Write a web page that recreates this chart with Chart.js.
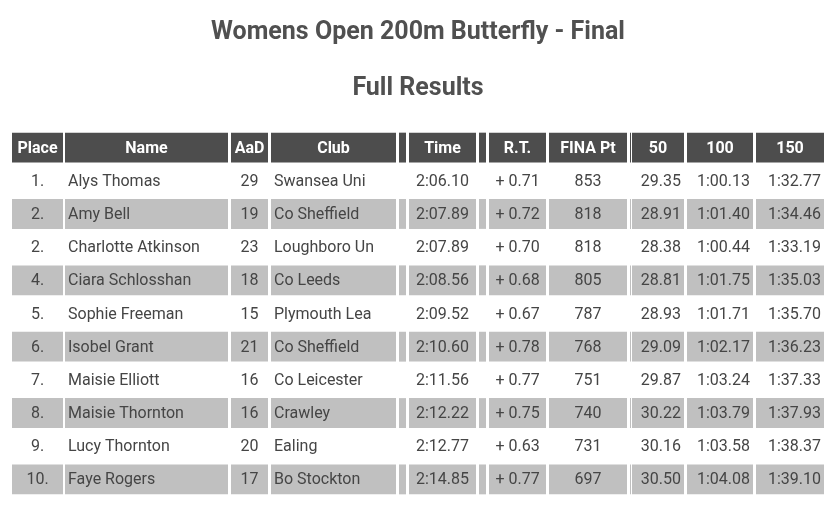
<!DOCTYPE html>
<html><head><meta charset="utf-8">
<script src="https://cdn.jsdelivr.net/npm/chart.js@4/dist/chart.umd.min.js"></script>
<style>html,body{margin:0;padding:0;background:#fff}#w{width:833px;height:512px}</style>
</head><body><div id="w"><canvas id="c"></canvas></div>
<script>
const titleText = "Womens Open 200m Butterfly - Final";
const subtitleText = "Full Results";
const headers = ["Place","Name","AaD","Club","","Time","","R.T.","FINA Pt","","50","100","150"];
const colStart = [12,65,231,271,399,409,479,489,549,630,632,687,756];
const colEnd   = [63,228,268,396,406,476,486,546,627,631,684,753,824];
const colAlign = ["center","left","center","left","center","center","center","center","center","center","right","right","right"];
const places = ["1.","2.","2.","4.","5.","6.","7.","8.","9.","10."];
const names = ["Alys Thomas","Amy Bell","Charlotte Atkinson","Ciara Schlosshan","Sophie Freeman","Isobel Grant","Maisie Elliott","Maisie Thornton","Lucy Thornton","Faye Rogers"];
const ages = [29,19,23,18,15,21,16,16,20,17];
const clubs = ["Swansea Uni","Co Sheffield","Loughboro Un","Co Leeds","Plymouth Lea","Co Sheffield","Co Leicester","Crawley","Ealing","Bo Stockton"];
const times = ["2:06.10","2:07.89","2:07.89","2:08.56","2:09.52","2:10.60","2:11.56","2:12.22","2:12.77","2:14.85"];
const reactions = ["+ 0.71","+ 0.72","+ 0.70","+ 0.68","+ 0.67","+ 0.78","+ 0.77","+ 0.75","+ 0.63","+ 0.77"];
const finaPts = [853,818,818,805,787,768,751,740,731,697];
const split50 = ["29.35","28.91","28.38","28.81","28.93","29.09","29.87","30.22","30.16","30.50"];
const split100 = ["1:00.13","1:01.40","1:00.44","1:01.75","1:01.71","1:02.17","1:03.24","1:03.79","1:03.58","1:04.08"];
const split150 = ["1:32.77","1:34.46","1:33.19","1:35.03","1:35.70","1:36.23","1:37.33","1:37.93","1:38.37","1:39.10"];

const rowLabels = ["H"].concat(places.map((p,i)=>"r"+i));
const cellText = (col,r)=>[places[r],names[r],String(ages[r]),clubs[r],"",times[r],"",reactions[r],String(finaPts[r]),"",split50[r],split100[r],split150[r]][col];
const rowColor = i => i===0 ? "#4d4d4d" : (i%2===0 ? "#c0c0c0" : "rgba(0,0,0,0)");

const datasets = colStart.map((s,ci)=>({
  data: rowLabels.map(()=>[s,colEnd[ci]]),
  backgroundColor: rowLabels.map((_,i)=>rowColor(i)),
  grouped:false, barPercentage:0.9, categoryPercentage:1, borderWidth:0
}));

const textPlugin = {
  id:"txt",
  afterDraw(chart){
    const ctx=chart.ctx, xs=chart.scales.x, ys=chart.scales.y;
    ctx.save();
    ctx.textBaseline="middle";
    ctx.fillStyle="#505050";
    ctx.textAlign="center";
    ctx.font="bold 25px Roboto";
    ctx.fillText(titleText,418,33);
    ctx.fillText(subtitleText,418,89);
    rowLabels.forEach((_,r)=>{
      const y=ys.getPixelForValue(r)+1;
      headers.forEach((h,ci)=>{
        const t = r===0 ? h : cellText(ci,r-1);
        if(!t) return;
        const a=colAlign[ci];
        let x;
        if(r===0){ ctx.textAlign="center"; x=(xs.getPixelForValue(colStart[ci])+xs.getPixelForValue(colEnd[ci]))/2; ctx.font="bold 16px Roboto"; ctx.fillStyle="#fff"; }
        else {
          ctx.font="16px Roboto"; ctx.fillStyle="#454545"; ctx.textAlign=a;
          if(a==="left") x=xs.getPixelForValue(colStart[ci])+3;
          else if(a==="right") x=xs.getPixelForValue(colEnd[ci])-3;
          else x=(xs.getPixelForValue(colStart[ci])+xs.getPixelForValue(colEnd[ci]))/2;
        }
        ctx.fillText(t,x,y);
      });
    });
    ctx.restore();
  }
};

new Chart(document.getElementById("c"),{
  type:"bar",
  data:{labels:rowLabels,datasets},
  options:{
    indexAxis:"y", responsive:true, maintainAspectRatio:false, animation:false,
    layout:{padding:{top:131,bottom:16,left:0,right:0}},
    plugins:{legend:{display:false},tooltip:{enabled:false},title:{display:false}},
    scales:{
      x:{type:"linear",min:0,max:833,display:false},
      y:{type:"category",display:false,offset:true}
    }
  },
  plugins:[textPlugin]
});
</script></body></html>
